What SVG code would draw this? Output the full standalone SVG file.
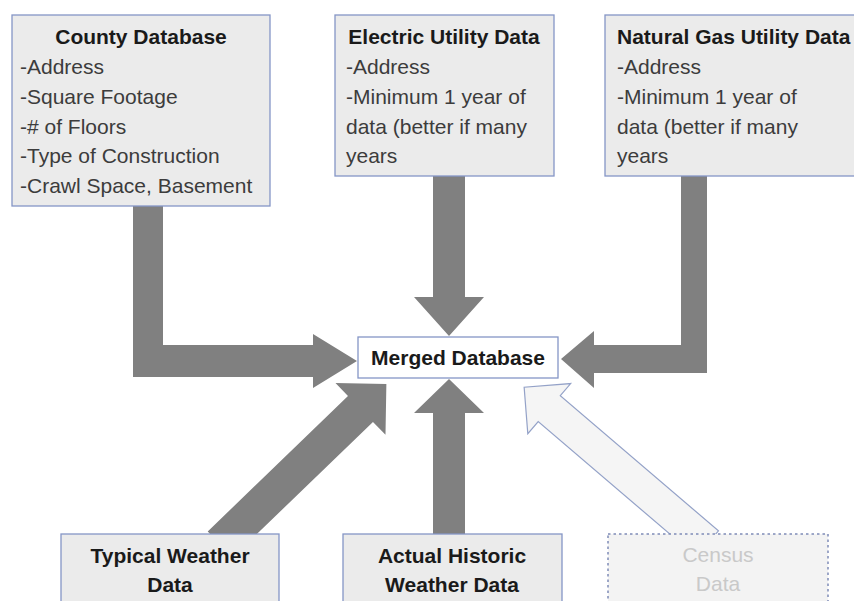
<svg xmlns="http://www.w3.org/2000/svg" width="854" height="601" viewBox="0 0 854 601">
<style>
.box{fill:#ebebeb;stroke:#8596c6;stroke-width:1.3}
.merged{fill:#ffffff;stroke:#8596c6;stroke-width:1.3}
.census{fill:#f3f3f3;stroke:#7f8cb8;stroke-width:1.5;stroke-dasharray:2.5 3}
.arrow{fill:#808080}
.larrow{fill:#f5f5f5;stroke:#94a2c8;stroke-width:1.2}
text{font-family:"Liberation Sans",Arial,sans-serif;font-size:21px;fill:#3c3c3c}
.t{font-weight:bold;fill:#1a1a1a;text-anchor:middle}
.c{text-anchor:middle;fill:#c9c9c9}
</style>
<rect width="854" height="601" fill="#ffffff"/>
<g id="connectors">
<path class="arrow" d="M133,200 L163,200 L163,345 L313,345 L313,334 L357,361 L313,388 L313,377 L133,377 Z"/>
<path class="arrow" d="M433,170 L465,170 L465,297 L484,297 L449,336 L414,297 L433,297 Z"/>
<path class="arrow" d="M681,170 L707,170 L707,373 L594,373 L594,388 L561,359 L594,331 L594,345 L681,345 Z"/>
<path class="arrow" d="M433,540 L465,540 L465,413 L484,413 L449,379 L414,413 L433,413 Z"/>
<path class="arrow" transform="translate(231,534) rotate(-44)" d="M-15,-18 L180,-18 L180,-36 L216,0 L180,36 L180,18 L-15,18 Z"/>
<path class="larrow" transform="translate(696,534) rotate(-139.5)" d="M-15,-17 L193,-17 L193,-33 L226,0 L193,33 L193,17 L-15,17 Z"/>
</g>
<g id="county">
<rect class="box" x="12" y="15" width="258" height="191"/>
<text class="t" x="141" y="44">County Database</text>
<text x="20" y="74">-Address</text>
<text x="20" y="104">-Square Footage</text>
<text x="20" y="134">-# of Floors</text>
<text x="20" y="163">-Type of Construction</text>
<text x="20" y="193">-Crawl Space, Basement</text>
</g>
<g id="electric">
<rect class="box" x="335" y="15" width="219" height="161"/>
<text class="t" x="444" y="44">Electric Utility Data</text>
<text x="346" y="74">-Address</text>
<text x="346" y="104">-Minimum 1 year of</text>
<text x="346" y="134">data (better if many</text>
<text x="346" y="163">years</text>
</g>
<g id="gas">
<rect class="box" x="605" y="15" width="260" height="161"/>
<text x="617" y="44" style="font-weight:bold;fill:#1a1a1a">Natural Gas Utility Data</text>
<text x="617" y="74">-Address</text>
<text x="617" y="104">-Minimum 1 year of</text>
<text x="617" y="134">data (better if many</text>
<text x="617" y="163">years</text>
</g>
<g id="merged">
<rect class="merged" x="358" y="337" width="200" height="41"/>
<text class="t" x="458" y="365">Merged Database</text>
</g>
<g id="typical">
<rect class="box" x="61" y="534" width="218" height="90"/>
<text class="t" x="170" y="563">Typical Weather</text>
<text class="t" x="170" y="592">Data</text>
</g>
<g id="actual">
<rect class="box" x="343" y="534" width="219" height="90"/>
<text class="t" x="452" y="563">Actual Historic</text>
<text class="t" x="452" y="592">Weather Data</text>
</g>
<g id="censusnode">
<rect class="census" x="608" y="534" width="220" height="90"/>
<text class="c" x="718" y="562">Census</text>
<text class="c" x="718" y="591">Data</text>
</g>
</svg>
